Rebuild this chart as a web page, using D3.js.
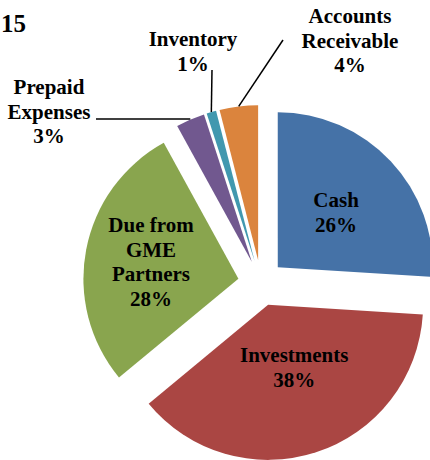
<!DOCTYPE html>
<html>
<head>
<meta charset="utf-8">
<script src="https://cdn.jsdelivr.net/npm/d3@7"></script>
<style>
  html, body { margin: 0; padding: 0; background: #fff; }
  svg { display: block; }
  text { font-family: "Liberation Serif", "Times New Roman", serif; font-weight: bold; fill: #000; }
</style>
</head>
<body>
<svg id="chart" width="430" height="460"></svg>
<script>
// ---- data ----
const categories = ["Cash", "Investments", "Due from GME Partners", "Prepaid Expenses", "Inventory", "Accounts Receivable"];
const values = [26, 38, 28, 3, 1, 4];
const labelLines = [["Cash"], ["Investments"], ["Due from", "GME", "Partners"], ["Prepaid", "Expenses"], ["Inventory"], ["Accounts", "Receivable"]];
const percentLabels = ["26%", "38%", "28%", "3%", "1%", "4%"];
const titleText = "15";

// ---- styles / layout ----
const colors = ["#4572A7", "#AA4643", "#89A54E", "#71588F", "#4198AF", "#DB843D"];
const cx = 261, cy = 283, radius = 155, explode = 23;
const fontSize = 21, lineH = 24.5;
const insideLabelDist = [80, 68, 89];
const insideLabelAngleShift = [0, -0.08, 0];
const outsideLabels = {
  3: { x: 49, y: 94, leaderFrom: [96, 119], horizontal: true },
  4: { x: 193, y: 46, leaderFrom: [212, 70] },
  5: { x: 350, y: 23, leaderFrom: [283, 40] }
};

const svg = d3.select("#chart");

const pie = d3.pie().sort(null).value(d => d).startAngle(0).endAngle(2 * Math.PI);
const arcs = pie(values);
const arcGen = d3.arc().innerRadius(0).outerRadius(radius);

const dir = a => [Math.sin(a), -Math.cos(a)];

const g = svg.append("g").attr("transform", `translate(${cx},${cy})`);

arcs.forEach((a, i) => {
  const mid = (a.startAngle + a.endAngle) / 2;
  const [dx, dy] = dir(mid);
  g.append("path")
    .attr("d", arcGen(a))
    .attr("fill", colors[i])
    .attr("transform", `translate(${dx * explode},${dy * explode})`);
});

// inside labels
arcs.forEach((a, i) => {
  if (i > 2) return;
  const mid = (a.startAngle + a.endAngle) / 2;
  const [ex, ey] = dir(mid);
  const [lx, ly] = dir(mid + insideLabelAngleShift[i]);
  const px = cx + ex * explode + lx * insideLabelDist[i];
  const py = cy + ey * explode + ly * insideLabelDist[i];
  const lines = labelLines[i].concat([percentLabels[i]]);
  const n = lines.length;
  const firstBaseline = py - (n - 1) * lineH / 2 + fontSize * 0.33;
  const t = svg.append("text")
    .attr("text-anchor", "middle")
    .attr("font-size", fontSize);
  lines.forEach((l, k) => {
    t.append("tspan").attr("x", px).attr("y", firstBaseline + k * lineH).text(l);
  });
});

// outside labels with leaders
arcs.forEach((a, i) => {
  const cfg = outsideLabels[i];
  if (!cfg) return;
  const mid = (a.startAngle + a.endAngle) / 2;
  const [dx, dy] = dir(mid);
  const ox = cx + dx * (explode + radius);
  const oy = cy + dy * (explode + radius);
  svg.append("line")
    .attr("x1", cfg.leaderFrom[0]).attr("y1", cfg.leaderFrom[1])
    .attr("x2", ox).attr("y2", cfg.horizontal ? cfg.leaderFrom[1] : oy)
    .attr("stroke", "#000").attr("stroke-width", 1.5);
  const lines = labelLines[i].concat([percentLabels[i]]);
  const t = svg.append("text")
    .attr("text-anchor", "middle")
    .attr("font-size", fontSize);
  lines.forEach((l, k) => {
    t.append("tspan").attr("x", cfg.x).attr("y", cfg.y + k * lineH).text(l);
  });
});

// title fragment at top-left
svg.append("text")
  .attr("x", 1).attr("y", 32)
  .attr("text-anchor", "start")
  .attr("font-size", 25)
  .text(titleText);
</script>
</body>
</html>
